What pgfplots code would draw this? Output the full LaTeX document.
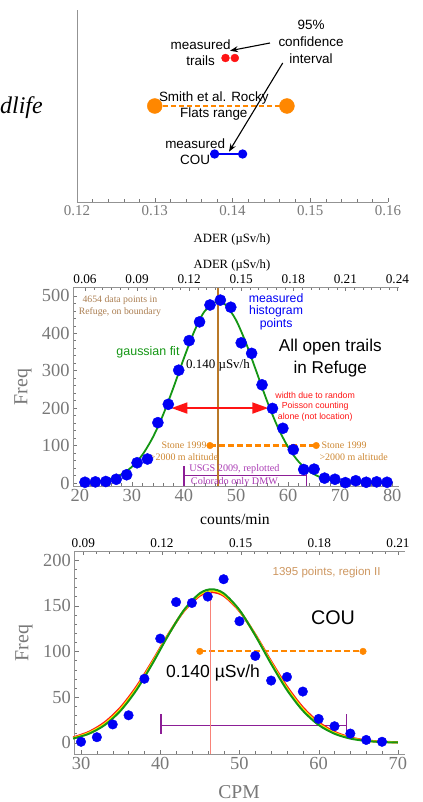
\documentclass[border=0pt]{standalone}
\usepackage{fontspec}
\setmainfont{Liberation Serif}
\setsansfont{Liberation Sans}
\usepackage{pgfplots}
\pgfplotsset{compat=1.18}
\usetikzlibrary{arrows.meta}

\definecolor{mblue}{RGB}{0,0,245}
\definecolor{mred}{RGB}{255,20,20}
\definecolor{morange}{RGB}{255,135,0}
\definecolor{mgreen}{RGB}{20,150,20}
\definecolor{myellow}{RGB}{250,240,0}
\definecolor{mpurple}{RGB}{140,30,150}
\definecolor{mpurpletext}{RGB}{170,60,180}
\definecolor{mtan}{RGB}{170,125,80}
\definecolor{mtan2}{RGB}{205,150,95}
\definecolor{mbrown}{RGB}{185,120,40}
\definecolor{msalmon}{RGB}{248,130,120}
\definecolor{mgray}{RGB}{120,120,120}
\definecolor{mstone}{RGB}{205,135,50}

\pgfplotsset{
  every axis/.append style={scale only axis, anchor=south west, clip=false,
    tick align=inside, /pgf/number format/assume math mode=true},
}

\begin{document}
\begin{tikzpicture}
\useasboundingbox (0,0) rectangle (423bp,-802bp);

% ---------------- Panel 1 ----------------
\begin{axis}[at={(77bp,-202bp)}, width=311bp, height=192bp,
  xmin=0.12, xmax=0.16, ymin=0, ymax=4,
  axis x line*=bottom, axis y line*=left,
  axis line style={-, draw=mgray!80},
  ytick=\empty, xtick={0.12,0.13,0.14,0.15,0.16}, minor x tick num=4,
  tick style={mgray},
  xticklabel style={font=\fontsize{15}{17}\selectfont, text=mgray,
    /pgf/number format/.cd, fixed, fixed zerofill, precision=2}]
\addplot[draw=morange, line width=1.4bp, dash pattern=on 5bp off 3bp, mark=none]
  coordinates {(0.130,2) (0.147,2)};
\addplot[only marks, mark=*, mark size=7.5, draw=morange, fill=morange]
  coordinates {(0.130,2) (0.147,2)};
\addplot[draw=mblue, line width=1.3bp, mark=*, mark size=4, mark options={draw=mblue, fill=mblue}]
  coordinates {(0.1377,1) (0.1413,1)};
\addplot[only marks, mark=*, mark size=4, draw=mred, fill=mred]
  coordinates {(0.1391,3) (0.1403,3)};
\node[align=center, font=\sffamily\fontsize{13.5}{16.5}\selectfont] at (axis cs:0.1359,3.115) {measured\\trails};
\node[align=center, font=\sffamily\fontsize{13.5}{17}\selectfont] at (axis cs:0.1501,3.333) {95\%\\confidence\\interval};
\node[align=center, font=\sffamily\fontsize{13.5}{16}\selectfont] at (axis cs:0.1376,2.0) {Smith et al. Rocky\\Flats range};
\node[align=center, font=\sffamily\fontsize{13.5}{15.5}\selectfont] at (axis cs:0.1352,1.052) {measured\\COU};
\draw[black, line width=1.1bp, -{Stealth[length=8bp,width=6bp]}] (axis cs:0.14482,3.3125) -- (axis cs:0.13968,3.152);
\draw[black, line width=1.1bp, -{Stealth[length=8bp,width=6bp]}] (axis cs:0.14646,2.896) -- (axis cs:0.13955,1.048);
\end{axis}
\node[anchor=west, inner sep=0, font=\itshape\fontsize{24}{26}\selectfont] at (0bp,-108bp) {dlife};
\node[font=\fontsize{12.7}{14}\selectfont] at (232bp,-239bp) {ADER (µSv/h)};

% ---------------- Panel 2 ----------------
\begin{axis}[at={(73bp,-486bp)}, width=326bp, height=199bp,
  xmin=18.7, xmax=81.3, ymin=-8, ymax=523,
  axis x line*=bottom, axis y line*=left,
  axis line style={-, draw=mgray!80},
  xtick={20,30,40,50,60,70,80}, ytick={0,100,200,300,400,500},
  minor x tick num=4, minor y tick num=4,
  tick style={mgray},
  ticklabel style={font=\fontsize{18.5}{20}\selectfont, text=mgray}]
\addplot[draw=morange, line width=2.2bp, dash pattern=on 6bp off 3bp, mark=none]
  coordinates {(45.0,100) (65.4,100)};
\addplot[only marks, mark=*, mark size=3.3, draw=morange, fill=morange]
  coordinates {(45.0,100) (65.4,100)};
\addplot[draw=mpurple, line width=1.5bp] coordinates {(40.0,19.6) (63.5,19.6)};
\addplot[draw=mpurple, line width=1.5bp] coordinates {(40.0,46) (40.0,-8)};
\addplot[draw=mpurple, line width=1.5bp] coordinates {(63.5,46) (63.5,-8)};
\addplot[draw=mbrown, line width=1.3bp] coordinates {(46.55,-8) (46.55,523)};
\node[align=center, font=\fontsize{9.8}{11.6}\selectfont, text=mtan] at (axis cs:27.7,472) {4654 data points in\\Refuge, on boundary};
\node[align=center, font=\sffamily\fontsize{12.3}{12.2}\selectfont, text=mblue] at (axis cs:57.7,457) {measured\\histogram\\points};
\node[font=\sffamily\fontsize{12.5}{14}\selectfont, text=mgreen] at (axis cs:33.1,349) {gaussian fit};
\node[anchor=west, inner sep=0, font=\fontsize{13}{15}\selectfont] at (axis cs:40.4,313) {0.140 µSv/h};
\node[align=center, font=\sffamily\fontsize{17.2}{21.7}\selectfont] at (axis cs:68.1,333) {All open trails\\in Refuge};
\node[align=center, font=\sffamily\fontsize{8.8}{10.3}\selectfont, text=mred] at (axis cs:65.2,204) {width due to random\\Poisson counting\\alone (not location)};
\node[anchor=east, inner sep=0, font=\fontsize{10}{12}\selectfont, text=mstone] at (axis cs:44.4,100) {Stone 1999};
\node[anchor=east, inner sep=0, font=\fontsize{10}{12}\selectfont, text=mstone] at (axis cs:46.6,68) {>2000 m altitude};
\node[anchor=west, inner sep=0, font=\fontsize{10}{12}\selectfont, text=mstone] at (axis cs:66.4,100) {Stone 1999};
\node[anchor=west, inner sep=0, font=\fontsize{10}{12}\selectfont, text=mstone] at (axis cs:66.0,68) {>2000 m altitude};
\node[font=\fontsize{10.2}{12}\selectfont, text=mpurpletext] at (axis cs:49.7,37) {USGS 2009, replotted};
\node[font=\fontsize{10.2}{12}\selectfont, text=mpurpletext] at (axis cs:49.7,3.5) {Colorado only DMW};
\addplot[draw=mgreen, line width=1.8bp, smooth] coordinates {
 (20,0.95)(22,2.3)(24,5.4)(26,11.6)(28,23.1)(30,43.1)(32,74.8)(34,121.0)(36,182.0)
 (38,255.2)(40,333.2)(42,405.1)(44,458.8)(46.5,485)(48,475.4)(50,434.9)(52,370.6)
 (54,294.2)(56,217.4)(58,149.7)(60,96.0)(62,57.3)(64,31.9)(66,16.5)(68,8.0)(70,3.6)
 (72,1.5)(74,0.6)(76,0.2)(78,0.1)(80,0.0)};
\draw[mred, line width=1.8bp, {Triangle[length=16bp,width=11bp]}-{Triangle[length=16bp,width=11bp]}] (axis cs:37.6,200) -- (axis cs:56.2,200);
\addplot[only marks, mark=*, mark size=5.6, draw=mblue, fill=mblue] coordinates {
 (21,2)(23,3)(25,4)(27,10)(29,22)(31,54)(33,64)(35,161)(37,210)(39,301)
 (41,380)(43,430)(45,475)(47,488)(49,469)(51,374)(53,346)(55,262)(57,199)(59,146)
 (61,89)(63,36)(65,37)(67,13)(69,10)(71,1)(73,6)(75,2)(77,3)(79,2)};
\end{axis}
\begin{axis}[at={(73bp,-486bp)}, width=326bp, height=199bp,
  xmin=0.0531, xmax=0.2409, ymin=0, ymax=1,
  axis x line*=top, hide y axis,
  axis line style={-, draw=mgray!80},
  xtick={0.06,0.09,0.12,0.15,0.18,0.21,0.24}, minor x tick num=5,
  tick style={mgray},
  xticklabel style={font=\fontsize{13.3}{15}\selectfont, text=black,
    /pgf/number format/.cd, fixed, fixed zerofill, precision=2}]
\addplot[draw=none] coordinates {(0.1,0.5)};
\end{axis}
\node[font=\fontsize{12.7}{14}\selectfont] at (232bp,-265bp) {ADER (µSv/h)};
\node[font=\fontsize{15.7}{17}\selectfont] at (235bp,-519bp) {counts/min};
\node[rotate=90, font=\fontsize{20}{22}\selectfont, text=mgray] at (23bp,-387bp) {Freq};

% ---------------- Panel 3 ----------------
\begin{axis}[at={(74.3bp,-754bp)}, width=330.7bp, height=203bp,
  xmin=29.15, xmax=70.9, ymin=-12.4, ymax=209.9,
  axis x line*=bottom, axis y line*=left,
  axis line style={-, draw=mgray!80},
  xtick={30,40,50,60,70}, ytick={0,50,100,150,200},
  minor x tick num=4, minor y tick num=4,
  tick style={mgray},
  ticklabel style={font=\fontsize{18.5}{20}\selectfont, text=mgray}]
\addplot[draw=morange, line width=2.2bp, dash pattern=on 6bp off 3bp, mark=none]
  coordinates {(45.0,100) (65.6,100)};
\addplot[only marks, mark=*, mark size=3.3, draw=morange, fill=morange]
  coordinates {(45.0,100) (65.6,100)};
\addplot[draw=mpurple, line width=1.5bp] coordinates {(40.1,18.6) (63.5,18.6)};
\addplot[draw=mpurple, line width=1.5bp] coordinates {(40.1,31) (40.1,9.5)};
\addplot[draw=mpurple, line width=1.5bp] coordinates {(63.5,31) (63.5,9.5)};
\node[font=\sffamily\fontsize{11.6}{13}\selectfont, text=mtan2] at (axis cs:61.0,186.9) {1395 points, region II};
\node[font=\sffamily\fontsize{19.8}{22}\selectfont] at (axis cs:61.8,136.8) {COU};
\node[font=\sffamily\fontsize{17.6}{20}\selectfont] at (axis cs:46.66,76) {0.140 µSv/h};
\addplot[draw=mred, line width=2.2bp, smooth] coordinates {
 (29,5.7)(31,11.8)(33,22.3)(35,38.6)(37,61.3)(39,89.0)(41,118.4)(43,144.2)(45,161.0)
 (46.5,165)(48,161.0)(50,144.2)(52,118.4)(54,89.0)(56,61.3)(58,38.6)(60,22.3)(62,11.8)
 (64,5.7)(66,2.5)(68,1.0)(70,0.4)};
\addplot[draw=myellow, line width=2.0bp, smooth] coordinates {
 (29,5.1)(31,10.8)(33,20.8)(35,36.9)(37,59.5)(39,87.7)(41,117.9)(43,144.8)(45,162.3)
 (46.5,166.5)(48,162.3)(50,144.8)(52,117.9)(54,87.7)(56,59.5)(58,36.9)(60,20.8)(62,10.8)
 (64,5.1)(66,2.2)(68,0.9)(70,0.3)};
\addplot[draw=mgreen, line width=2.0bp, smooth] coordinates {
 (29,4.5)(31,9.8)(33,19.4)(35,35.1)(37,57.7)(39,86.3)(41,117.4)(43,145.3)(45,163.6)
 (46.5,168)(48,163.6)(50,145.3)(52,117.4)(54,86.3)(56,57.7)(58,35.1)(60,19.4)(62,9.8)
 (64,4.5)(66,1.9)(68,0.7)(70,0.2)};
\addplot[draw=msalmon, line width=1.0bp] coordinates {(46.4,-12.4) (46.4,165)};
\addplot[only marks, mark=*, mark size=4.8, draw=mblue, fill=mblue] coordinates {
 (30,1)(32,6)(34,20)(36,30)(38,70)(40,114)(42,154)(44,153)(46,160)(48,179)
 (50,133)(52,95)(54,68)(56,72)(58,56)(60,26)(62,18)(64,10)(66,3)(68,1)};
\end{axis}
\begin{axis}[at={(74.3bp,-754bp)}, width=330.7bp, height=203bp,
  xmin=0.08657, xmax=0.21267, ymin=0, ymax=1,
  axis x line*=top, hide y axis,
  axis line style={-, draw=mgray!80},
  xtick={0.09,0.12,0.15,0.18,0.21}, minor x tick num=5,
  tick style={mgray},
  xticklabel style={font=\fontsize{13.3}{15}\selectfont, text=black,
    /pgf/number format/.cd, fixed, fixed zerofill, precision=2}]
\addplot[draw=none] coordinates {(0.1,0.5)};
\end{axis}
\node[font=\fontsize{19.7}{21}\selectfont, text=mgray] at (239bp,-792bp) {CPM};
\node[rotate=90, font=\fontsize{20}{22}\selectfont, text=mgray] at (24bp,-643bp) {Freq};
\end{tikzpicture}
\end{document}
